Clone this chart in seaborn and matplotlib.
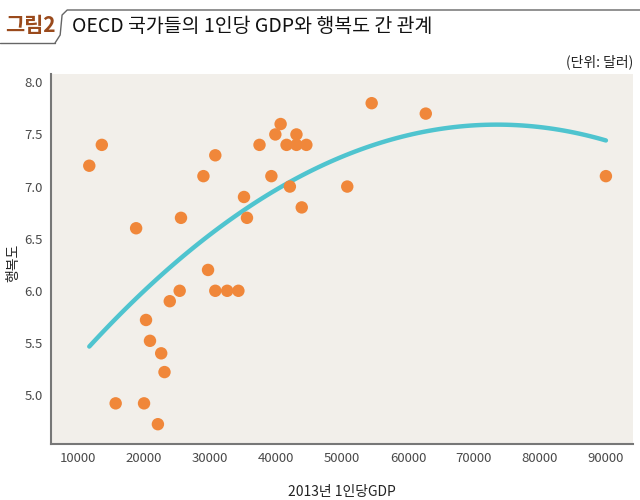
import numpy as np
import pandas as pd
import matplotlib
matplotlib.use("Agg")
import matplotlib.pyplot as plt
import seaborn as sns

# 2013 GDP per capita (USD) and happiness score
gdp = [11700, 13600, 18800, 25600, 29000, 30800, 29700, 25400, 23900, 30800,
       32600, 34300, 35150, 35600, 37500, 39300, 39900, 40700, 41600, 42100,
       43100, 43100, 44600, 43900, 54500, 62700, 50800, 90000, 20300, 20900,
       22600, 23100, 15700, 20000, 22100]
happiness = [7.2, 7.4, 6.6, 6.7, 7.1, 7.3, 6.2, 6.0, 5.9, 6.0,
             6.0, 6.0, 6.9, 6.7, 7.4, 7.1, 7.5, 7.6, 7.4, 7.0,
             7.5, 7.4, 7.4, 6.8, 7.8, 7.7, 7.0, 7.1, 5.72, 5.52,
             5.4, 5.22, 4.92, 4.92, 4.72]
x_ticks = [10000, 20000, 30000, 40000, 50000, 60000, 70000, 80000, 90000]
y_ticks = [5.0, 5.5, 6.0, 6.5, 7.0, 7.5, 8.0]

data = pd.DataFrame({"gdp": gdp, "happy": happiness})

sns.set_style("white")
plt.rcParams['font.family'] = ['Noto Sans CJK KR', 'DejaVu Sans']

fig = plt.figure(figsize=(6.4, 5.0), dpi=100)
ax = fig.add_axes([0.0797, 0.112, 0.9093, 0.740])
ax.set_facecolor("#f2efea")

# quadratic trend line
sns.regplot(x="gdp", y="happy", data=data, order=2, ci=None, scatter=False,
            line_kws={"color": "#4fc4cf", "lw": 3.2}, ax=ax)
sns.scatterplot(x="gdp", y="happy", data=data, color="#f0873a", s=80,
                edgecolor="none", ax=ax, zorder=3)

ax.set_xlim(5900, 94100)
ax.set_ylim(4.53, 8.08)
ax.set_xticks(x_ticks)
ax.set_yticks(y_ticks)
ax.set_yticklabels([f"{v:.1f}" for v in y_ticks])
ax.tick_params(axis="both", length=0, labelsize=9.5, labelcolor="#4a4a4a", pad=6)
for s in ["top", "right"]:
    ax.spines[s].set_visible(False)
for s in ["left", "bottom"]:
    ax.spines[s].set_color("#777777")
    ax.spines[s].set_linewidth(1.5)

ax.set_xlabel("2013년 1인당GDP", fontsize=10, color="#222222", labelpad=14)
ax.set_ylabel("행복도", fontsize=10, color="#222222")
ax.yaxis.set_label_coords(-0.053, 0.49)

# title block
fig.text(0.008, 0.948, "그림2", fontsize=15, color="#9a4a1c", fontweight="bold",
         va="center")
fig.text(0.112, 0.948, "OECD 국가들의 1인당 GDP와 행복도 간 관계", fontsize=14,
         color="#111111", va="center")
fig.add_artist(plt.Line2D([0.0, 0.086], [0.914, 0.914], color="#666666", lw=1))
fig.add_artist(plt.Line2D([0.086, 0.094, 0.097, 0.105, 1.0],
                          [0.914, 0.93, 0.97, 0.98, 0.98], color="#666666", lw=1))
fig.text(0.989, 0.876, "(단위: 달러)", fontsize=10, color="#222222", ha="right",
         va="center")

plt.savefig("out.png", dpi=100)
